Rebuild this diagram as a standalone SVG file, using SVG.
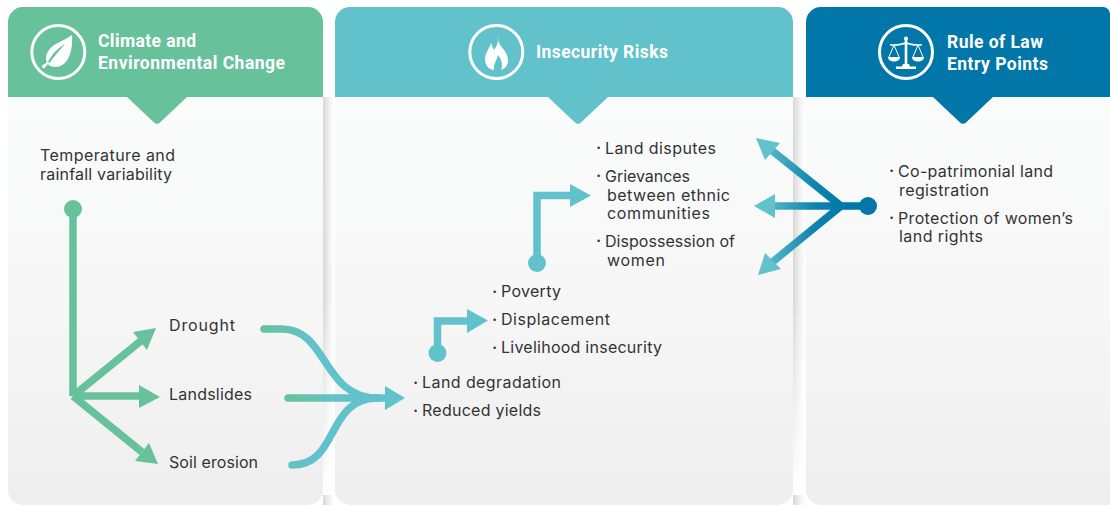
<svg xmlns="http://www.w3.org/2000/svg" width="1110" height="506" viewBox="0 0 1110 506">
<style>
.t{font-family:"Inter","Liberation Sans",sans-serif;font-size:16px;fill:#333}
.b{font-family:"Liberation Sans",sans-serif;font-size:9px;fill:#333}
.h{font-family:"Roboto","Liberation Sans",sans-serif;font-size:17.5px;font-weight:700;fill:#fff}
.ic{fill:none;stroke:#fff;stroke-width:3}
.w{fill:#fff}
.gs{fill:none;stroke:#67c29c;stroke-width:7.500}
.ts{fill:none;stroke:#62c2cc;stroke-width:7.500}
.gf{fill:#67c29c}.tf{fill:#62c2cc}
.bs{fill:none;stroke:url(#bl);stroke-width:7.500}
.cv{fill:none;stroke-width:7.500;stroke-linecap:round}
</style>
<defs>
<linearGradient id="body" x1="0" y1="0" x2="0" y2="1"><stop offset="0" stop-color="#fafcfb"/><stop offset="0.55" stop-color="#f6f6f6"/><stop offset="1" stop-color="#eeeeee"/></linearGradient>
<linearGradient id="sh" x1="0" y1="0" x2="1" y2="0"><stop offset="0" stop-color="#d8d8d8"/><stop offset="0.7" stop-color="#f8f8f8"/><stop offset="1" stop-color="#ffffff"/></linearGradient>
<linearGradient id="fade" x1="0" y1="0" x2="0" y2="1"><stop offset="0" stop-color="#fff" stop-opacity="0"/><stop offset="1" stop-color="#fff" stop-opacity="1"/></linearGradient>
<linearGradient id="c1" gradientUnits="userSpaceOnUse" x1="262" y1="0" x2="310" y2="0"><stop offset="0" stop-color="#67c29c"/><stop offset="1" stop-color="#62c2cc"/></linearGradient>
<linearGradient id="c2" gradientUnits="userSpaceOnUse" x1="290" y1="0" x2="340" y2="0"><stop offset="0" stop-color="#67c29c"/><stop offset="1" stop-color="#62c2cc"/></linearGradient>
<linearGradient id="bl" gradientUnits="userSpaceOnUse" x1="845" y1="0" x2="760" y2="0"><stop offset="0" stop-color="#0077a8"/><stop offset="0.35" stop-color="#0f82ae"/><stop offset="1" stop-color="#62c2cc"/></linearGradient>
</defs>

<rect x="323" y="97" width="12" height="408" fill="url(#sh)"/>
<rect x="793" y="97" width="13" height="408" fill="url(#sh)"/>
<rect x="323" y="300" width="12" height="195" fill="url(#fade)"/>
<rect x="793" y="300" width="13" height="195" fill="url(#fade)"/>

<g id="panel-climate">
<path d="M8 97H323V490a15 15 0 0 1-15 15H23a15 15 0 0 1-15-15Z" fill="url(#body)"/>
<path d="M8 97V22a15 15 0 0 1 15-15H308a15 15 0 0 1 15 15V97H187L160 122.500a4 4 0 0 1-6 0L127 97Z" fill="#67c29c"/>
<circle class="ic" cx="58.300" cy="52" r="26.500"/>
<path class="w" d="M72 35C73 50 69 66 56 67C52 67 49 66 48 64L44 68.500A2 2 0 0 1 44 64.500L47 62C45 59 46 54 49 50C54 43 64 41 72 35ZM65 44C58 48 52 54 48 62L49.500 63C54 56 60 50 65 44Z"/>
<text class="h" x="98" y="47" textLength="98">Climate and</text>
<text class="h" x="98" y="69" textLength="187">Environmental Change</text>
<text class="t" x="40" y="161" textLength="135">Temperature and</text>
<text class="t" x="40" y="180" textLength="132">rainfall variability</text>
<text class="t" x="169" y="331" textLength="66">Drought</text>
<text class="t" x="169" y="400" textLength="83">Landslides</text>
<text class="t" x="169" y="468" textLength="89">Soil erosion</text>
</g>

<g id="panel-risks">
<path d="M335 97H793V490a15 15 0 0 1-15 15H350a15 15 0 0 1-15-15Z" fill="url(#body)"/>
<path d="M335 97V22a15 15 0 0 1 15-15H778a15 15 0 0 1 15 15V97H608L581 122.500a4 4 0 0 1-6 0L548 97Z" fill="#62c2cc"/>
<circle class="ic" cx="496.300" cy="52" r="26.500"/>
<path class="w" d="M498 35C497 42 501 46 504 50C508 55 509 62 507 65C506 67 504 69 501 70C503 65 502 60 498 55C497 60 493 64 494 70C488 69 485 65 485 59C485 53 489 50 491 43C492 46 493 48 494 50C497 46 499 41 498 35Z"/>
<text class="h" x="536" y="58" textLength="132">Insecurity Risks</text>
<text class="b" x="597" y="151">•</text><text class="t" x="605" y="154" textLength="111">Land disputes</text>
<text class="b" x="597" y="179">•</text><text class="t" x="605" y="182" textLength="85">Grievances</text>
<text class="t" x="607" y="201" textLength="123">between ethnic</text>
<text class="t" x="607" y="219" textLength="103">communities</text>
<text class="b" x="597" y="244">•</text><text class="t" x="605" y="247" textLength="130">Dispossession of</text>
<text class="t" x="607" y="266" textLength="58">women</text>
<text class="b" x="493" y="295">•</text><text class="t" x="501" y="297" textLength="60">Poverty</text>
<text class="b" x="493" y="323">•</text><text class="t" x="501" y="325" textLength="109">Displacement</text>
<text class="b" x="493" y="351">•</text><text class="t" x="501" y="353" textLength="161">Livelihood insecurity</text>
<text class="b" x="414" y="386">•</text><text class="t" x="422" y="388" textLength="139">Land degradation</text>
<text class="b" x="414" y="414">•</text><text class="t" x="422" y="416" textLength="119">Reduced yields</text>
</g>

<g id="panel-law">
<path d="M806 97H1110V505H821a15 15 0 0 1-15-15Z" fill="url(#body)"/>
<path d="M806 97V22a15 15 0 0 1 15-15H1103a7 7 0 0 1 7 7V97H993L966 122.500a4 4 0 0 1-6 0L933 97Z" fill="#0077a8"/>
<circle class="ic" cx="906" cy="52" r="26.500"/>
<g class="w">
<circle cx="906" cy="38.500" r="2"/>
<rect x="904.700" y="39" width="2.600" height="28"/>
<path d="M903 64H909L910 66.500H916V69H896V66.500H902Z"/>
<path d="M890 44C896 45 902 43 906 42C910 43 916 45 922 44V45.500C916 46.500 910 45 906 44C902 45 896 46.500 890 45.500Z"/>
<path d="M888 57H900C900 63 888 63 888 57Z"/>
<path d="M912 57H924C924 63 912 63 912 57Z"/>
</g>
<path d="M894 45L889 57M894 45L899 57M918 45L913 57M918 45L923 57" stroke="#fff" stroke-width="1" fill="none"/>
<text class="h" x="947" y="48" textLength="96">Rule of Law</text>
<text class="h" x="947" y="70" textLength="101">Entry Points</text>
<text class="b" x="890" y="174">•</text><text class="t" x="898" y="177" textLength="155">Co-patrimonial land</text>
<text class="t" x="899" y="196" textLength="90">registration</text>
<text class="b" x="890" y="221">•</text><text class="t" x="898" y="224" textLength="175">Protection of women’s</text>
<text class="t" x="899" y="242" textLength="84">land rights</text>
</g>

<g id="connectors">
<circle class="gf" cx="73" cy="209" r="9"/>
<path class="gs" d="M73 209V396M73 396L142 340M73 396H142M73 396L142 452" stroke-linejoin="round"/>
<path class="gf" d="M156 328L133 332L147 350Z"/>
<path class="gf" d="M160 397L139 385V408Z"/>
<path class="gf" d="M158 464L149 443L135 461Z"/>

<path class="cv" d="M264 329H282C328 329 322 398 378 398" stroke="url(#c1)"/>
<path class="cv" d="M292 465C340 465 325 398 378 398" stroke="url(#c1)"/>
<path class="cv" d="M288 398H390" stroke="url(#c2)"/>
<path class="tf" d="M405 398L385 386V410Z"/>

<circle class="tf" cx="437.500" cy="353" r="9"/>
<path class="ts" d="M437.500 353V321H470"/>
<path class="tf" d="M488 320.500L467 309V333Z"/>

<circle class="tf" cx="537" cy="263" r="9"/>
<path class="ts" d="M537 263V195.500H572"/>
<path class="tf" d="M591 195.500L570 184V207Z"/>

<circle cx="868" cy="206" r="9" fill="#0077a8"/>
<path d="M868 206H845" fill="none" stroke="#0077a8" stroke-width="7.500"/>
<path class="bs" d="M846 206H772"/>
<path class="bs" d="M841 206L770 149"/>
<path class="bs" d="M841 206L770 264"/>
<path class="tf" d="M756 138L780 143L765 160Z"/>
<path class="tf" d="M754 206L775 194V218Z"/>
<path class="tf" d="M758 275L781 269L765 253Z"/>
</g>
</svg>
